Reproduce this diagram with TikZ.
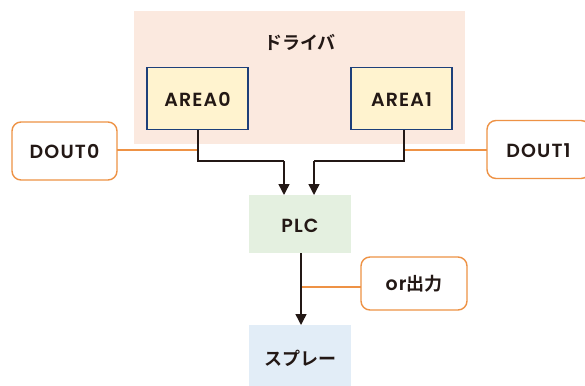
\documentclass[tikz,border=0pt]{standalone}
\usepackage{fontspec}
\setmainfont{Poppins SemiBold}[LetterSpace=6]
\newfontfamily\cjkfont{Noto Sans CJK JP Bold}
\usetikzlibrary{arrows.meta}
\definecolor{ink}{HTML}{231815}
\definecolor{orangeline}{HTML}{EE9245}
\definecolor{navy}{HTML}{1D3F7A}
\definecolor{drvfill}{HTML}{FBE9DF}
\definecolor{areafill}{HTML}{FFF3CF}
\definecolor{plcfill}{HTML}{E4F0E0}
\definecolor{sprayfill}{HTML}{E2EDF7}
\tikzset{
  x=1pt,y=-1pt,
  lbl/.style={font=\fontsize{19}{22}\selectfont,text=ink,inner sep=0pt,outer sep=0pt},
  latin/.style={text height=15.3pt,text depth=0pt},
  flat/.style={lbl,rectangle,minimum width=102pt},
  areabox/.style={lbl,latin,rectangle,draw=navy,line width=1.2pt,fill=areafill,minimum width=101pt,minimum height=62pt},
  tag/.style={lbl,rectangle,rounded corners=9pt,draw=orangeline,line width=1.4pt,fill=white},
  flow/.style={draw=ink,line width=1.5pt,-{Triangle[length=11pt,width=11pt]}},
  wire/.style={draw=ink,line width=1.5pt},
  lead/.style={draw=orangeline,line width=1.4pt}
}
\begin{document}
\begin{tikzpicture}
\useasboundingbox (0,0) rectangle (585,385);
\clip (0,0) rectangle (585,385);
\fill[white] (0,0) rectangle (585,385);
\node[lbl,rectangle,fill=drvfill,minimum width=331pt,minimum height=133pt] (drv) at (299.5,77.5) {};
\node[lbl,font=\fontsize{18}{22}\selectfont\cjkfont] (drvlabel) at (300,42.5) {ドライバ};
\node[areabox] (a0) at (197.5,98.5) {AREA0};
\node[areabox] (a1) at (401.5,98.5) {AREA1};
\node[tag,latin,minimum width=105pt,minimum height=58pt] (d0) at (64.5,151) {DOUT0};
\node[tag,latin,minimum width=103pt,minimum height=58pt] (d1) at (538.5,149.5) {DOUT1};
\node[flat,text height=17pt,text depth=0pt,fill=plcfill,minimum height=58pt] (plc) at (300,224) {PLC};
\node[flat,fill=sprayfill,minimum height=66pt] (spray) at (300,358) {\fontsize{18}{22}\selectfont\cjkfont スプレー};
\node[tag,minimum width=106pt,minimum height=53pt] (or) at (414,283.5) {or{\fontsize{18}{22}\selectfont\cjkfont 出力}};
\coordinate (j0) at (198,150);
\coordinate (j1) at (404,150);
\coordinate (j2) at (301,287);
\coordinate (b0) at (198,130);
\coordinate (b1) at (404,130);
\coordinate (c0) at (198,161);
\coordinate (c1) at (404,161);
\coordinate (p0) at (284,195);
\coordinate (p1) at (314,195);
\coordinate (pm) at (301,253);
\coordinate (sm) at (301,325);
\draw[lead] (d0.east |- j0) -- (j0);
\draw[lead] (j1) -- (d1.west |- j1);
\draw[lead] (j2) -- (or.west |- j2);
\draw[wire] (b0) -- (c0) -- (c0 -| p0);
\draw[flow] (c0 -| p0) -- (p0);
\draw[wire] (b1) -- (c1) -- (c1 -| p1);
\draw[flow] (c1 -| p1) -- (p1);
\draw[flow] (pm) -- (sm);
\end{tikzpicture}
\end{document}
